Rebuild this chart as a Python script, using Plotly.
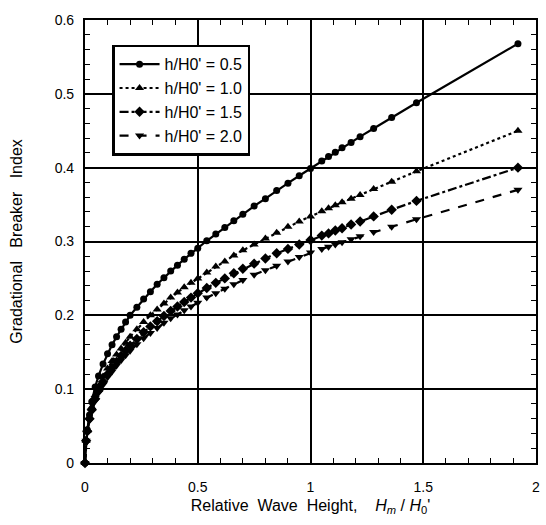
import plotly.graph_objects as go

# Relative wave height Hm/H0' (shared sample points)
hm_h0 = [0, 0.005, 0.01, 0.02, 0.03, 0.045, 0.06, 0.08, 0.10, 0.12, 0.14, 0.16, 0.18, 0.20,
         0.23, 0.26, 0.29, 0.32, 0.35, 0.38, 0.41, 0.44, 0.47, 0.50, 0.54, 0.58, 0.62, 0.66,
         0.70, 0.75, 0.80, 0.85, 0.90, 0.95, 1.00, 1.05, 1.08, 1.11, 1.14, 1.18, 1.22, 1.28,
         1.36, 1.47, 1.92]

idx_05 = [0, 0.030, 0.045, 0.065, 0.083, 0.103, 0.118, 0.134, 0.148, 0.160, 0.171, 0.181, 0.191, 0.200,
          0.211, 0.222, 0.232, 0.242, 0.251, 0.260, 0.268, 0.276, 0.284, 0.291, 0.301, 0.310, 0.319, 0.328,
          0.337, 0.348, 0.358, 0.369, 0.379, 0.389, 0.399, 0.409, 0.415, 0.421, 0.427, 0.434, 0.442, 0.453,
          0.468, 0.488, 0.568]

idx_10 = [0, 0.030, 0.044, 0.062, 0.076, 0.092, 0.104, 0.117, 0.128, 0.138, 0.147, 0.155, 0.163, 0.171,
          0.181, 0.191, 0.200, 0.208, 0.216, 0.224, 0.231, 0.238, 0.244, 0.250, 0.258, 0.266, 0.273, 0.281,
          0.288, 0.296, 0.304, 0.312, 0.320, 0.327, 0.334, 0.341, 0.345, 0.349, 0.353, 0.358, 0.363, 0.371,
          0.381, 0.395, 0.450]

idx_15 = [0, 0.030, 0.043, 0.060, 0.072, 0.087, 0.098, 0.110, 0.120, 0.129, 0.137, 0.145, 0.152, 0.159,
          0.168, 0.177, 0.185, 0.192, 0.199, 0.206, 0.212, 0.218, 0.224, 0.230, 0.237, 0.244, 0.250, 0.257,
          0.263, 0.270, 0.277, 0.284, 0.290, 0.296, 0.302, 0.308, 0.311, 0.315, 0.318, 0.323, 0.327, 0.334,
          0.343, 0.355, 0.400]

idx_20 = [0, 0.030, 0.042, 0.058, 0.070, 0.084, 0.095, 0.106, 0.116, 0.124, 0.132, 0.139, 0.146, 0.152,
          0.161, 0.169, 0.176, 0.183, 0.190, 0.196, 0.201, 0.207, 0.212, 0.217, 0.224, 0.230, 0.236, 0.242,
          0.248, 0.255, 0.261, 0.267, 0.273, 0.279, 0.285, 0.290, 0.293, 0.296, 0.299, 0.303, 0.307, 0.313,
          0.320, 0.330, 0.370]

series_names = ["h/H0' = 0.5", "h/H0' = 1.0", "h/H0' = 1.5", "h/H0' = 2.0"]
series_values = [idx_05, idx_10, idx_15, idx_20]
dashes = ["solid", "dot", "dashdot", "dash"]
symbols = ["circle", "triangle-up", "diamond", "triangle-down"]
sizes = [7, 8, 8, 8]

x_ticks = [0, 0.5, 1, 1.5, 2]
y_ticks = [0, 0.1, 0.2, 0.3, 0.4, 0.5, 0.6]

FONT = "Liberation Sans, Arial, Helvetica, sans-serif"

fig = go.Figure()
for name, vals, d, s, sz in zip(series_names, series_values, dashes, symbols, sizes):
    fig.add_trace(go.Scatter(
        x=hm_h0, y=vals, mode="lines+markers", name=name,
        line=dict(color="black", width=2.2, dash=d),
        marker=dict(symbol=s, size=sz, color="black"),
        cliponaxis=False,
    ))

axis_common = dict(
    showline=True, linecolor="black", linewidth=2.2, mirror="allticks",
    showgrid=True, gridcolor="black", gridwidth=1.5,
    ticks="inside", ticklen=6, tickcolor="black", tickwidth=1.5,
    zeroline=False,
    tickfont=dict(family=FONT, size=14, color="black"),
)

fig.update_xaxes(
    range=[0, 2], tickvals=x_ticks, ticklabelstandoff=10,
    minor=dict(dtick=0.1, ticks="inside", ticklen=5, tickcolor="black", tickwidth=1.2, showgrid=False),
    title=dict(text="Relative  Wave  Height,    <i>H</i><sub><i>m</i></sub> / <i>H</i><sub>0</sub>'",
               font=dict(family=FONT, size=16, color="black"), standoff=6),
    **axis_common,
)
fig.update_yaxes(
    range=[0, 0.6], tickvals=y_ticks, ticklabelstandoff=6,
    minor=dict(dtick=0.02, ticks="inside", ticklen=5, tickcolor="black", tickwidth=1.2, showgrid=False),
    title=dict(text="Gradational   Breaker   Index",
               font=dict(family=FONT, size=16, color="black"), standoff=28),
    **axis_common,
)

fig.update_layout(
    width=546, height=525,
    margin=dict(l=85, r=6, t=20, b=62),
    plot_bgcolor="white", paper_bgcolor="white",
    font=dict(family=FONT, color="black"),
    legend=dict(
        x=0.06, y=0.944, xanchor="left", yanchor="top",
        bgcolor="white", bordercolor="black", borderwidth=2.5,
        font=dict(family=FONT, size=16, color="black"),
        itemwidth=40, tracegroupgap=0,
    ),
    showlegend=True,
)

fig.write_html("out.html")
